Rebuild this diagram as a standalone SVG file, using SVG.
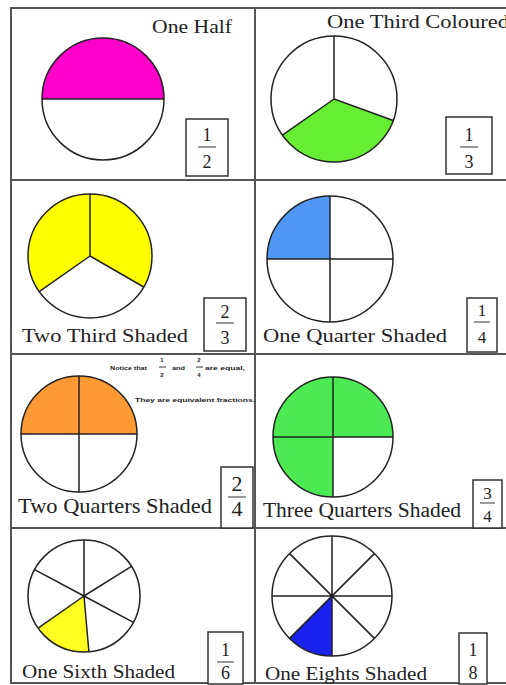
<svg xmlns="http://www.w3.org/2000/svg" width="506" height="685" viewBox="0 0 506 685">
<style>
.grid{fill:none;stroke:#555;stroke-width:2}
.c{fill:none;stroke:#222;stroke-width:1.5}
.sp{stroke:#222;stroke-width:1.5;fill:none}
.lbl{font-family:'Liberation Serif','DejaVu Serif',serif;fill:#222}
.fr{font-family:'Liberation Serif','DejaVu Serif',serif;fill:#222;text-anchor:middle}
.box{fill:#fff;stroke:#333;stroke-width:1.5}
.fl{stroke:#333;stroke-width:1}
.note{font-family:'Liberation Sans',Arial,sans-serif;font-size:6px;font-weight:bold;fill:#222}
</style>
<rect width="506" height="685" fill="#fff"/>
<g id="grid">
<rect class="grid" x="11" y="8" width="510" height="675"/>
<line class="grid" x1="255" y1="8" x2="255" y2="683"/>
<line class="grid" x1="11" y1="180" x2="506" y2="180"/>
<line class="grid" x1="11" y1="354" x2="506" y2="354"/>
<line class="grid" x1="11" y1="528" x2="506" y2="528"/>
</g>

<g id="half" font-family="'Liberation Serif', serif">
<path d="M42,99 A61,61 0 0 1 164,99 Z" fill="#ff00cc"/>
<circle class="c" cx="103" cy="99" r="61"/>
<line class="sp" x1="42" y1="99" x2="164" y2="99"/>
<text class="lbl" font-family="Liberation Serif, serif" x="152" y="33" font-size="18" textLength="80" lengthAdjust="spacingAndGlyphs">One Half</text>
<rect class="box" x="186" y="119" width="42" height="57"/>
<text class="fr" font-family="Liberation Serif, serif" x="207" y="141" font-size="18">1</text>
<line class="fl" x1="198" y1="147" x2="216" y2="147"/>
<text class="fr" font-family="Liberation Serif, serif" x="207" y="168" font-size="18">2</text>
</g>

<g id="third">
<path d="M334,99 L393.2,120.5 A63,63 0 0 1 282.4,135.1 Z" fill="#66ee33"/>
<circle class="c" cx="334" cy="99" r="63"/>
<path class="sp" d="M334,36 L334,99 L393.2,120.5 M334,99 L282.4,135.1"/>
<text class="lbl" font-family="Liberation Serif, serif" x="327" y="28" font-size="18" textLength="182" lengthAdjust="spacingAndGlyphs">One Third Coloured</text>
<rect class="box" x="446" y="117" width="46" height="57"/>
<text class="fr" font-family="Liberation Serif, serif" x="469" y="141" font-size="18">1</text>
<line class="fl" x1="460" y1="147" x2="478" y2="147"/>
<text class="fr" font-family="Liberation Serif, serif" x="469" y="168" font-size="18">3</text>
</g>

<g id="twothirds">
<path d="M90,256 L143.7,287 A62,62 0 1 0 39.2,291.6 Z" fill="#ffff00"/>
<circle class="c" cx="90" cy="256" r="62"/>
<path class="sp" d="M90,194 L90,256 L143.7,287 M90,256 L39.2,291.6"/>
<text class="lbl" font-family="Liberation Serif, serif" x="22" y="342" font-size="19" textLength="166" lengthAdjust="spacingAndGlyphs">Two Third Shaded</text>
<rect class="box" x="204" y="298" width="42" height="53"/>
<text class="fr" font-family="Liberation Serif, serif" x="225" y="318" font-size="18">2</text>
<line class="fl" x1="216" y1="323" x2="234" y2="323"/>
<text class="fr" font-family="Liberation Serif, serif" x="225" y="344" font-size="18">3</text>
</g>

<g id="quarter">
<path d="M330,259 L267,259 A63,63 0 0 1 330,196 Z" fill="#4f96f5"/>
<circle class="c" cx="330" cy="259" r="63"/>
<path class="sp" d="M267,259 L393,259 M330,196 L330,322"/>
<text class="lbl" font-family="Liberation Serif, serif" x="263" y="342" font-size="19" textLength="184" lengthAdjust="spacingAndGlyphs">One Quarter Shaded</text>
<rect class="box" x="467" y="298" width="30" height="54"/>
<text class="fr" font-family="Liberation Serif, serif" x="482" y="316" font-size="17">1</text>
<line class="fl" x1="474" y1="322" x2="490" y2="322"/>
<text class="fr" font-family="Liberation Serif, serif" x="482" y="343" font-size="17">4</text>
</g>

<g id="twoquarters">
<path d="M21,434 A58,58 0 0 1 137,434 Z" fill="#ff9933"/>
<circle class="c" cx="79" cy="434" r="58"/>
<path class="sp" d="M21,434 L137,434 M79,376 L79,492"/>
<text class="lbl" font-family="Liberation Serif, serif" x="18" y="513" font-size="21" textLength="194" lengthAdjust="spacingAndGlyphs">Two Quarters Shaded</text>
<rect class="box" x="221" y="467" width="32" height="61"/>
<text class="fr" font-family="Liberation Serif, serif" x="237" y="491" font-size="22">2</text>
<line class="fl" x1="228" y1="497" x2="246" y2="497"/>
<text class="fr" font-family="Liberation Serif, serif" x="237" y="516" font-size="22">4</text>
</g>

<g id="note">
<text class="note" x="110" y="370" textLength="37" lengthAdjust="spacingAndGlyphs">Notice that</text>
<text class="note" x="162" y="362" text-anchor="middle">1</text>
<line class="fl" x1="159" y1="367" x2="166" y2="367" stroke-width="0.7"/>
<text class="note" x="162" y="377" text-anchor="middle">2</text>
<text class="note" x="172" y="370" textLength="13" lengthAdjust="spacingAndGlyphs">and</text>
<text class="note" x="199" y="362" text-anchor="middle">2</text>
<line class="fl" x1="196" y1="367" x2="203" y2="367" stroke-width="0.7"/>
<text class="note" x="199" y="377" text-anchor="middle">4</text>
<text class="note" x="205" y="370" textLength="40" lengthAdjust="spacingAndGlyphs">are equal,</text>
<text class="note" x="135" y="402" textLength="120" lengthAdjust="spacingAndGlyphs">They are equivalent fractions.</text>
</g>

<g id="threequarters">
<path d="M333,437 L393,437 A60,60 0 1 0 333,497 Z" fill="#4cea52"/>
<circle class="c" cx="333" cy="437" r="60"/>
<path class="sp" d="M273,437 L393,437 M333,377 L333,497"/>
<text class="lbl" font-family="Liberation Serif, serif" x="263" y="517" font-size="20" textLength="198" lengthAdjust="spacingAndGlyphs">Three Quarters Shaded</text>
<rect class="box" x="473" y="480" width="29" height="48"/>
<text class="fr" font-family="Liberation Serif, serif" x="487.5" y="499" font-size="17">3</text>
<line class="fl" x1="480" y1="503" x2="495" y2="503"/>
<text class="fr" font-family="Liberation Serif, serif" x="487.5" y="522" font-size="17">4</text>
</g>

<g id="sixth">
<path d="M84,596 L88.9,651.8 A56,56 0 0 1 38.1,628.1 Z" fill="#ffff22"/>
<circle class="c" cx="84" cy="596" r="56"/>
<path class="sp" d="M84,540 L84,596 M131.5,566.3 L84,596 M133.4,622.3 L84,596 M88.9,651.8 L84,596 M38.1,628.1 L84,596 M34.6,569.7 L84,596"/>
<text class="lbl" font-family="Liberation Serif, serif" x="22" y="678" font-size="19" textLength="153" lengthAdjust="spacingAndGlyphs">One Sixth Shaded</text>
<rect class="box" x="208" y="632" width="35" height="52"/>
<text class="fr" font-family="Liberation Serif, serif" x="225.5" y="656" font-size="18">1</text>
<line class="fl" x1="217" y1="662" x2="234" y2="662"/>
<text class="fr" font-family="Liberation Serif, serif" x="225.5" y="679" font-size="18">6</text>
</g>

<g id="eighth">
<path d="M332,596 L332,656 A60,60 0 0 1 289.6,638.4 Z" fill="#1a22ee"/>
<circle class="c" cx="332" cy="596" r="60"/>
<path class="sp" d="M272,596 L392,596 M332,536 L332,656 M289.6,553.6 L374.4,638.4 M289.6,638.4 L374.4,553.6"/>
<text class="lbl" font-family="Liberation Serif, serif" x="265" y="680" font-size="19" textLength="162" lengthAdjust="spacingAndGlyphs">One Eights Shaded</text>
<rect class="box" x="459" y="633" width="28" height="51"/>
<text class="fr" font-family="Liberation Serif, serif" x="473" y="656" font-size="18">1</text>
<text class="fr" font-family="Liberation Serif, serif" x="473" y="679" font-size="18">8</text>
</g>
</svg>
